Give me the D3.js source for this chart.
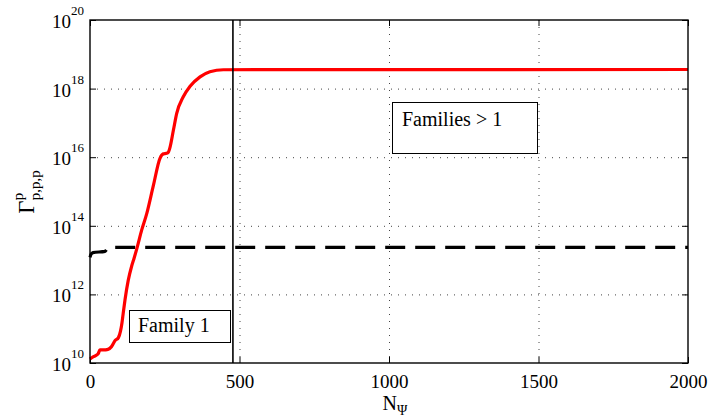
<!DOCTYPE html>
<html>
<head>
<meta charset="utf-8">
<script src="https://cdn.jsdelivr.net/npm/d3@7"></script>
<style>
  body { margin: 0; background: #fff; }
  svg text { font-family: "Liberation Serif", "Times New Roman", serif; fill: #000; }
</style>
</head>
<body>
<svg id="chart" width="709" height="418"></svg>
<script>
// ---- data ----
const xTicks = [0, 500, 1000, 1500, 2000];
const yTickExps = [10, 12, 14, 16, 18, 20];

const redN = [0, 10, 22, 28, 33, 45, 60, 72, 84, 95, 102, 107, 111, 117, 128, 139, 147, 158, 173, 190, 212, 234, 245, 256, 262, 268, 279, 290, 312, 334, 368, 401, 446, 2000];
const redG = [1.3e10, 1.5e10, 1.7e10, 1.9e10, 2.4e10, 2.4e10, 2.5e10, 3.0e10, 4.5e10, 5.5e10, 8.5e10, 1.5e11, 2.8e11, 6.9e11, 2.6e12, 6.5e12, 1.1e13, 2.4e13, 7.6e13, 2.3e14, 1.5e15, 9.3e15, 1.25e16, 1.3e16, 1.4e16, 2.0e16, 6.2e16, 1.9e17, 5.8e17, 1.15e18, 2.2e18, 3.1e18, 3.55e18, 3.6e18];

const blackN = [0, 3, 10, 50, 62, 2000];
const blackG = [1.2e13, 1.45e13, 1.65e13, 1.8e13, 2.35e13, 2.35e13];

const boundaryN = 478;
const labels = [
  { text: "Family 1", n: 130, g: 1e10 },
  { text: "Families > 1", n: 1020, g: 1e17 }
];

// ---- layout ----
const svg = d3.select("#chart");
const L = 90, R = 688, T = 20, B = 363;
const x = d3.scaleLinear().domain([0, 2000]).range([L, R]);
const y = d3.scaleLog().domain([1e10, 1e20]).range([B, T]);

// grid
const grid = svg.append("g").attr("stroke", "#444").attr("stroke-width", 1).attr("stroke-dasharray", "1,6");
grid.selectAll("line.gy").data(yTickExps.slice(1, -1)).join("line")
  .attr("x1", L).attr("x2", R)
  .attr("y1", d => y(Math.pow(10, d)) + 0.5).attr("y2", d => y(Math.pow(10, d)) + 0.5);
grid.selectAll("line.gx").data(xTicks.slice(1, -1)).join("line")
  .attr("x1", d => x(d) + 0.5).attr("x2", d => x(d) + 0.5)
  .attr("y1", T).attr("y2", B);

// axes (ticks inward, on all sides)
const tickLen = 6;
const axB = svg.append("g").attr("transform", `translate(0,${B})`)
  .call(d3.axisBottom(x).tickValues(xTicks).tickSize(-tickLen).tickPadding(12).tickFormat(d3.format("d")));
const axT = svg.append("g").attr("transform", `translate(0,${T})`)
  .call(d3.axisTop(x).tickValues(xTicks).tickSize(-tickLen).tickFormat(""));
const yVals = yTickExps.map(e => Math.pow(10, e));
const axL = svg.append("g").attr("transform", `translate(${L},0)`)
  .call(d3.axisLeft(y).tickValues(yVals).tickSize(-tickLen).tickFormat(""));
const axR = svg.append("g").attr("transform", `translate(${R},0)`)
  .call(d3.axisRight(y).tickValues(yVals).tickSize(-tickLen).tickFormat(""));
[axB, axT, axL, axR].forEach(a => {
  a.select(".domain").remove();
  a.selectAll("line").attr("stroke", "#000").attr("stroke-width", 1);
});
axB.selectAll("text").attr("font-size", 19).attr("font-family", "Liberation Serif").attr("fill", "#000");

// y tick labels: 10^e
const yl = svg.append("g");
yTickExps.forEach(e => {
  const t = yl.append("text")
    .attr("x", L - 6).attr("y", y(Math.pow(10, e)) + 8)
    .attr("text-anchor", "end").attr("font-size", 19);
  t.append("tspan").text("10");
  t.append("tspan").attr("font-size", 13).attr("dy", -13).text(e);
});

// lines
const line = d3.line().x(d => x(d[0])).y(d => y(d[1])).curve(d3.curveMonotoneX);
svg.append("path").datum(blackN.map((n, i) => [n, blackG[i]]))
  .attr("fill", "none").attr("stroke", "#000").attr("stroke-width", 3.2)
  .attr("stroke-dasharray", "20,10").attr("d", line);
svg.append("path").datum(redN.map((n, i) => [n, redG[i]]))
  .attr("fill", "none").attr("stroke", "#ff0000").attr("stroke-width", 3.2)
  .attr("stroke-linejoin", "round").attr("d", line);

// boundary line
svg.append("line")
  .attr("x1", x(boundaryN)).attr("x2", x(boundaryN))
  .attr("y1", T).attr("y2", B)
  .attr("stroke", "#000").attr("stroke-width", 1.6);

// frame
svg.append("rect").attr("x", L).attr("y", T).attr("width", R - L).attr("height", B - T)
  .attr("fill", "none").attr("stroke", "#000").attr("stroke-width", 1.4);

// text boxes
const b1 = labels[0], b2 = labels[1];
const g1 = svg.append("g");
g1.append("rect").attr("x", 129.5).attr("y", 310.5).attr("width", 101).attr("height", 32)
  .attr("fill", "#fff").attr("stroke", "#000").attr("stroke-width", 1);
g1.append("text").attr("x", 138).attr("y", 332).attr("font-size", 20).text(b1.text);
const g2 = svg.append("g");
g2.append("rect").attr("x", 392.5).attr("y", 102.5).attr("width", 145).attr("height", 51)
  .attr("fill", "#fff").attr("stroke", "#000").attr("stroke-width", 1);
g2.append("text").attr("x", 402).attr("y", 125.5).attr("font-size", 20).text(b2.text);

// x label
const xl = svg.append("text").attr("x", 395).attr("y", 410).attr("text-anchor", "middle").attr("font-size", 20);
xl.append("tspan").text("N");
xl.append("tspan").attr("font-size", 14).attr("dy", 5).text("Ψ");

// y label
const ylab = svg.append("text").attr("transform", "translate(34,192) rotate(-90)")
  .attr("text-anchor", "middle").attr("font-size", 23);
ylab.append("tspan").text("Γ");
ylab.append("tspan").attr("font-size", 15).attr("dy", -11).text("p");
ylab.append("tspan").attr("font-size", 15).attr("dx", -7.5).attr("dy", 17).text("p,p,p");
</script>
</body>
</html>
